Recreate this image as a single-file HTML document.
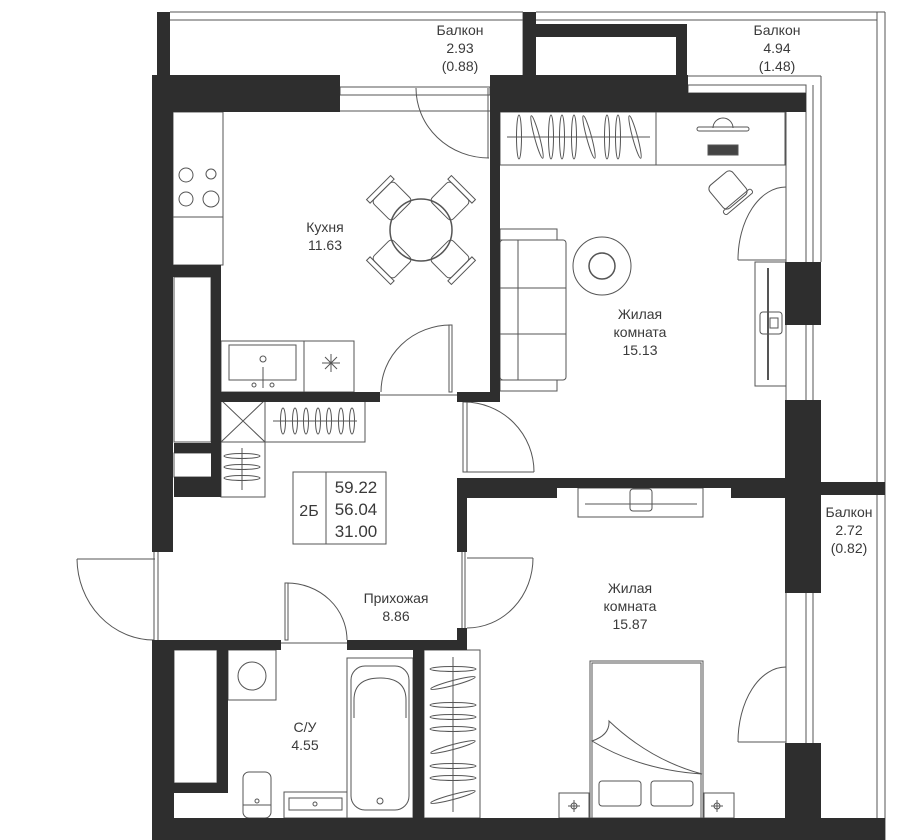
<!DOCTYPE html>
<html><head><meta charset="utf-8"><style>
html,body{margin:0;padding:0;background:#fff}
svg{display:block}
text{font-family:"Liberation Sans",sans-serif;fill:#3a3a3a;font-size:14px;text-anchor:middle}
</style></head><body>
<svg width="900" height="840" viewBox="0 0 900 840" xmlns="http://www.w3.org/2000/svg">
<g fill="none" stroke="#555" stroke-width="1">
<!-- balconies outlines -->
<line x1="170" y1="12" x2="523" y2="12"/><line x1="170" y1="20" x2="523" y2="20"/>
<line x1="523" y1="12" x2="523" y2="75"/>
<line x1="536" y1="12" x2="885" y2="12"/><line x1="536" y1="20" x2="877" y2="20"/>
<line x1="877" y1="12" x2="877" y2="840"/><line x1="885" y1="12" x2="885" y2="840"/>
<line x1="821" y1="76" x2="821" y2="262"/><line x1="688" y1="76" x2="821" y2="76"/>
<!-- top kitchen window -->
<rect x="340" y="87" width="150" height="8"/>
<line x1="340" y1="111" x2="490" y2="111"/>
<!-- room2 top window -->
<rect x="688" y="85" width="118" height="8"/>
<line x1="806" y1="85" x2="806" y2="262"/><line x1="813" y1="85" x2="813" y2="262"/>
<line x1="786" y1="112" x2="786" y2="262"/>
<line x1="806" y1="325" x2="806" y2="400"/><line x1="813" y1="325" x2="813" y2="400"/><line x1="786" y1="325" x2="786" y2="400"/>
<line x1="806" y1="593" x2="806" y2="743"/><line x1="813" y1="593" x2="813" y2="743"/><line x1="786" y1="593" x2="786" y2="743"/>
<!-- kitchen -->
<rect x="173" y="112" width="50" height="153"/><line x1="173" y1="217" x2="223" y2="217"/>
<circle cx="186" cy="175" r="7"/><circle cx="211" cy="174" r="5"/><circle cx="186" cy="199" r="7"/><circle cx="211" cy="199" r="8"/>
<rect x="174" y="277" width="37" height="165"/>
<rect x="221" y="341" width="133" height="51"/><line x1="304" y1="341" x2="304" y2="392"/>
<rect x="229" y="345" width="67" height="35"/>
<circle cx="263" cy="359" r="3"/><line x1="263" y1="367" x2="263" y2="388"/><circle cx="254" cy="385" r="2"/><circle cx="272" cy="385" r="2"/>
<path d="M322 363h18M331 354v18M325 357l12 12M337 357l-12 12"/>
<!-- table & chairs -->
<circle cx="421" cy="230" r="31" stroke-width="1.5"/>
<g transform="rotate(-45 421 230)"><rect x="406" y="175" width="30" height="28" rx="4"/><rect x="404" y="170" width="34" height="5"/></g>
<g transform="rotate(45 421 230)"><rect x="406" y="175" width="30" height="28" rx="4"/><rect x="404" y="170" width="34" height="5"/></g>
<g transform="rotate(135 421 230)"><rect x="406" y="175" width="30" height="28" rx="4"/><rect x="404" y="170" width="34" height="5"/></g>
<g transform="rotate(-135 421 230)"><rect x="406" y="175" width="30" height="28" rx="4"/><rect x="404" y="170" width="34" height="5"/></g>
<!-- kitchen doors -->
<path d="M416 88 A73 70 0 0 0 489 158"/><line x1="488" y1="88" x2="488" y2="158"/>
<path d="M381 392 A70 67 0 0 1 451 325"/><rect x="449" y="325" width="3" height="67"/>
<line x1="380" y1="395" x2="457" y2="395"/>
<!-- room2 -->
<rect x="500" y="112" width="156" height="53"/><rect x="656" y="112" width="129" height="53"/>
<line x1="507" y1="137" x2="650" y2="137"/>
<g>
<ellipse cx="519" cy="137" rx="2.5" ry="22"/><ellipse cx="537" cy="137" rx="2.5" ry="22" transform="rotate(-15 537 137)"/>
<ellipse cx="551" cy="137" rx="2.5" ry="22"/><ellipse cx="562" cy="137" rx="2.5" ry="22"/><ellipse cx="574" cy="137" rx="2.5" ry="22"/>
<ellipse cx="589" cy="137" rx="2.5" ry="22" transform="rotate(-15 589 137)"/><ellipse cx="607" cy="137" rx="2.5" ry="22"/>
<ellipse cx="618" cy="137" rx="2.5" ry="22"/><ellipse cx="635" cy="137" rx="2.5" ry="22" transform="rotate(-15 635 137)"/>
</g>
<path d="M713 128 a10 10 0 0 1 20 0"/><rect x="697" y="127" width="52" height="4" rx="2"/>
<rect x="708" y="145" width="30" height="10" fill="#444"/>
<g transform="rotate(-40 728 190)"><rect x="713" y="175" width="30" height="30" rx="5"/><rect x="710" y="203" width="36" height="5" rx="2"/></g>
<path d="M738 260 A48 73 0 0 1 786 187"/><line x1="738" y1="260" x2="786" y2="260"/>
<rect x="500" y="240" width="66" height="140" rx="3"/><rect x="500" y="229" width="57" height="11"/><rect x="500" y="380" width="57" height="11"/>
<line x1="518" y1="240" x2="518" y2="380"/><line x1="500" y1="288" x2="566" y2="288"/><line x1="500" y1="334" x2="566" y2="334"/>
<circle cx="602" cy="266" r="29"/><circle cx="602" cy="266" r="13" stroke-width="1.5"/>
<rect x="755" y="262" width="31" height="124"/><line x1="768" y1="268" x2="768" y2="380" stroke-width="2"/>
<rect x="760" y="312" width="22" height="22" rx="3"/><rect x="770" y="318" width="8" height="10"/>
<!-- hallway -->
<rect x="221" y="400" width="44" height="42"/><path d="M221 400L265 442M265 400L221 442"/>
<rect x="265" y="400" width="100" height="42"/><line x1="273" y1="421" x2="357" y2="421"/>
<g><ellipse cx="283" cy="421" rx="2.5" ry="13"/><ellipse cx="295" cy="421" rx="2.5" ry="13"/><ellipse cx="306" cy="421" rx="2.5" ry="13"/><ellipse cx="318" cy="421" rx="2.5" ry="13"/><ellipse cx="329" cy="421" rx="2.5" ry="13"/><ellipse cx="341" cy="421" rx="2.5" ry="13"/><ellipse cx="352" cy="421" rx="2.5" ry="13"/></g>
<rect x="221" y="442" width="44" height="55"/><line x1="242" y1="448" x2="242" y2="490"/>
<ellipse cx="242" cy="456" rx="18" ry="2.5"/><ellipse cx="242" cy="467" rx="18" ry="2.5"/><ellipse cx="242" cy="478" rx="18" ry="2.5"/>
<rect x="174" y="453" width="41" height="24"/>
<rect x="293" y="472" width="93" height="72"/><line x1="326" y1="472" x2="326" y2="544"/>
<path d="M534 472 A70 70 0 0 0 464 402"/><rect x="463" y="402" width="4" height="70"/><line x1="467" y1="472" x2="534" y2="472"/>
<path d="M77 559 A77 82 0 0 0 154 640"/><line x1="77" y1="559" x2="155" y2="559"/><line x1="154" y1="552" x2="154" y2="640"/><line x1="158" y1="552" x2="158" y2="640"/>
<path d="M347 640 A60 57 0 0 0 287 583"/><rect x="285" y="583" width="3" height="57"/><line x1="281" y1="643" x2="347" y2="643"/>
<!-- room3 -->
<rect x="578" y="488" width="125" height="29"/><line x1="585" y1="504" x2="697" y2="504"/><rect x="630" y="489" width="22" height="22" rx="3"/>
<path d="M533 558 A66 70 0 0 1 467 628"/><line x1="467" y1="558" x2="533" y2="558"/><line x1="462" y1="552" x2="462" y2="628"/><line x1="465" y1="552" x2="465" y2="628"/>
<path d="M738 742 A48 75 0 0 1 786 667"/><line x1="738" y1="742" x2="786" y2="742"/>
<rect x="590" y="661" width="113" height="157"/><rect x="592" y="663" width="109" height="155"/>
<path d="M592 741 Q610 735 609 721 Q650 760 702 774 Q640 770 592 741Z"/>
<rect x="599" y="781" width="42" height="25" rx="3"/><rect x="651" y="781" width="42" height="25" rx="3"/>
<rect x="559" y="793" width="30" height="25"/><rect x="704" y="793" width="30" height="25"/>
<path d="M574 800v12M568 806h12M717 800v12M711 806h12"/><circle cx="574" cy="806" r="3"/><circle cx="717" cy="806" r="3"/>
<rect x="424" y="650" width="56" height="168"/><line x1="453" y1="657" x2="453" y2="812"/>
<g><ellipse cx="453" cy="669" rx="23" ry="2.5"/><ellipse cx="453" cy="683" rx="23" ry="2.5" transform="rotate(-15 453 683)"/><ellipse cx="453" cy="705" rx="23" ry="2.5"/><ellipse cx="453" cy="717" rx="23" ry="2.5"/><ellipse cx="453" cy="729" rx="23" ry="2.5"/><ellipse cx="453" cy="747" rx="23" ry="2.5" transform="rotate(-15 453 747)"/><ellipse cx="453" cy="766" rx="23" ry="2.5"/><ellipse cx="453" cy="778" rx="23" ry="2.5"/><ellipse cx="453" cy="797" rx="23" ry="2.5" transform="rotate(-15 453 797)"/></g>
<!-- bathroom -->
<rect x="174" y="650" width="43" height="133"/>
<rect x="228" y="650" width="48" height="50"/><circle cx="252" cy="676" r="14"/>
<rect x="347" y="658" width="66" height="160"/><rect x="351" y="666" width="58" height="144" rx="14"/><path d="M354 718 V700 Q354 678 380 678 Q406 678 406 700 V718"/><circle cx="380" cy="801" r="3"/>
<rect x="243" y="772" width="28" height="46" rx="6"/><line x1="243" y1="805" x2="271" y2="805"/><circle cx="257" cy="801" r="2"/>
<rect x="284" y="792" width="63" height="26"/><rect x="289" y="798" width="53" height="12"/><circle cx="315" cy="804" r="2"/>
</g>
<g fill="#2e2e2e">
<rect x="157" y="12" width="13" height="63"/>
<rect x="523" y="12" width="13" height="63"/><rect x="523" y="24" width="164" height="13"/><rect x="676" y="24" width="11" height="51"/>
<rect x="152" y="75" width="188" height="37"/>
<rect x="490" y="75" width="198" height="37"/><rect x="688" y="93" width="118" height="19"/>
<rect x="152" y="75" width="21" height="477"/>
<rect x="152" y="640" width="22" height="200"/>
<rect x="173" y="265" width="48" height="12"/><rect x="211" y="265" width="10" height="232"/>
<rect x="174" y="443" width="41" height="10"/><rect x="174" y="477" width="47" height="20"/>
<rect x="490" y="75" width="10" height="327"/>
<rect x="221" y="392" width="159" height="10"/><rect x="457" y="392" width="43" height="10"/>
<rect x="785" y="262" width="36" height="63"/><rect x="785" y="400" width="36" height="193"/><rect x="821" y="482" width="64" height="13"/>
<rect x="785" y="743" width="36" height="77"/>
<rect x="152" y="818" width="733" height="22"/>
<rect x="457" y="478" width="100" height="20"/><rect x="557" y="478" width="174" height="10"/><rect x="731" y="478" width="54" height="20"/>
<rect x="457" y="478" width="10" height="74"/><rect x="457" y="628" width="10" height="22"/>
<rect x="152" y="640" width="129" height="10"/><rect x="347" y="640" width="120" height="10"/>
<rect x="217" y="650" width="11" height="143"/><rect x="174" y="783" width="54" height="10"/>
<rect x="413" y="650" width="11" height="168"/>
</g>
<text x="460" y="35">Балкон</text><text x="460" y="53">2.93</text><text x="460" y="71">(0.88)</text>
<text x="777" y="35">Балкон</text><text x="777" y="53">4.94</text><text x="777" y="71">(1.48)</text>
<text x="325" y="232">Кухня</text><text x="325" y="250">11.63</text>
<text x="640" y="319">Жилая</text><text x="640" y="337">комната</text><text x="640" y="355">15.13</text>
<text x="849" y="517">Балкон</text><text x="849" y="535">2.72</text><text x="849" y="553">(0.82)</text>
<text x="396" y="603">Прихожая</text><text x="396" y="621">8.86</text>
<text x="630" y="593">Жилая</text><text x="630" y="611">комната</text><text x="630" y="629">15.87</text>
<text x="305" y="732">С/У</text><text x="305" y="750">4.55</text>
<text x="309" y="516" style="font-size:16px">2Б</text>
<text x="356" y="493" style="font-size:17px">59.22</text><text x="356" y="515" style="font-size:17px">56.04</text><text x="356" y="537" style="font-size:17px">31.00</text>
</svg>
</body></html>
